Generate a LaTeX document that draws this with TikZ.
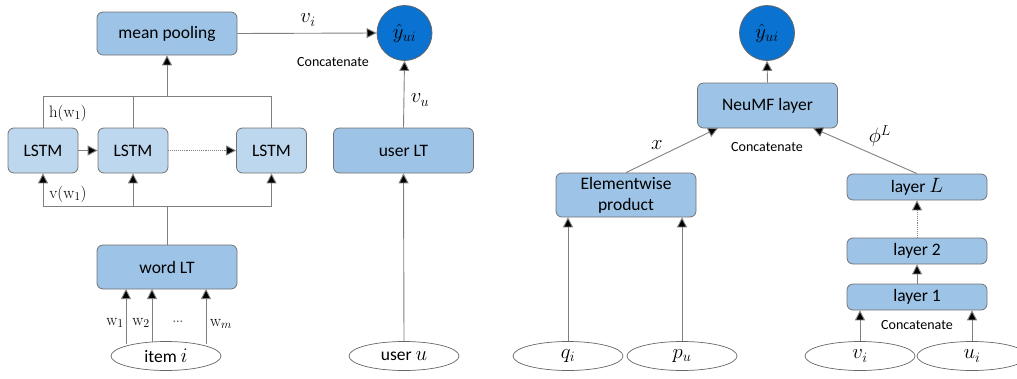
\documentclass[tikz,border=0pt]{standalone}
\usepackage{fontspec}
\setmainfont{Carlito}
\usetikzlibrary{arrows.meta,shapes.geometric}
\newcommand\bigmath[1]{{\fontsize{21}{23}\selectfont$#1$}}
\tikzset{
  blk/.style={draw=black!55, line width=0.8pt, rounded corners=6pt, fill=boxblue,
    minimum width=#1, font=\fontsize{17.5}{20}\selectfont, align=center, inner sep=0pt},
  blk/.default=140pt,
  lstmbox/.style={blk=70pt, fill=lstmblue, minimum height=45pt},
  inp/.style={draw=black!60, line width=0.7pt, ellipse, minimum width=110pt,
    minimum height=29pt, inner sep=0pt, font=\fontsize{17.5}{20}\selectfont, fill=white},
  outc/.style={circle, draw=black!60, line width=0.8pt, fill=outblue, minimum size=55pt,
    inner sep=0pt},
  link/.style={draw=black!50, line width=0.9pt},
  arr/.style={link, -{Triangle[width=10pt,length=10pt,fill=black]}},
  lbl/.style={inner sep=0pt},
  wlbl/.style={font=\fontfamily{lmr}\fontsize{16.5}{18}\selectfont, inner sep=0pt},
  small/.style={font=\fontsize{14}{16}\selectfont, inner sep=0pt},
}
\definecolor{boxblue}{HTML}{9DC3E6}
\definecolor{lstmblue}{HTML}{BDD7EE}
\definecolor{outblue}{HTML}{0A72D0}
\begin{document}
\begin{tikzpicture}[x=1pt,y=-1pt]
\useasboundingbox (0,0) rectangle (1017,378);
\clip (0,0) rectangle (1017,378);

% ---------- left model: item text through LSTMs ----------
\node[blk, minimum height=43pt] (pool) at (167,33.5) {mean pooling};
\node[lstmbox] (l1) at (43,150.5) {LSTM};
\node[lstmbox] (l2) at (133,150.5) {LSTM};
\node[lstmbox] (l3) at (271.5,150.5) {LSTM};
\node[blk, minimum height=44pt] (word) at (167,267) {word LT};
\node[inp] (item) at (166,356) {item \bigmath{i}};

\coordinate (htop) at (167,96);
\coordinate (vbot) at (167,206);

\draw[link] (l1.north) |- (htop);
\draw[link] (l3.north) |- (htop);
\draw[link] (l2.north) -- (l2.north |- htop);
\draw[arr] (htop) -- (pool.south);
\draw[arr] (l1) -- (l2);
\draw[arr, densely dotted] (l2) -- (l3);

\draw[link] (word.north) -- (vbot);
\draw[link] (l1.south |- vbot) -- (l3.south |- vbot);
\draw[arr] (l1.south |- vbot) -- (l1.south);
\draw[arr] (l2.south |- vbot) -- (l2.south);
\draw[arr] (l3.south |- vbot) -- (l3.south);

\node[wlbl] (hw) at (68,113) {h(w$_1$)};
\node[wlbl] (vw) at (68,194) {v(w$_1$)};

% word inputs, from the item ellipse to the lookup table
\coordinate (wa0) at (126,343.5);  \coordinate (wa1) at (126,289);
\coordinate (wb0) at (152,342);    \coordinate (wb1) at (152,289);
\coordinate (wc0) at (206,343.5);  \coordinate (wc1) at (206,289);
\draw[arr] (wa0) -- (wa1);
\draw[arr] (wb0) -- (wb1);
\draw[arr] (wc0) -- (wc1);
\node[wlbl] (w1) at (115,323) {w$_1$};
\node[wlbl] (w2) at (141,323) {w$_2$};
\node[small, text=black!60] (dots) at (178,322) {…};
\node[wlbl] (wm) at (221,324) {w$_m$};

% user side and first output
\node[outc] (y1) at (404.5,33) {\bigmath{\hat{y}_{ui}}};
\node[blk, minimum height=45pt] (ult) at (403.5,150.5) {user LT};
\node[inp] (user) at (404,356) {user \bigmath{u}};

\draw[arr] (pool.east) -- (y1.west);
\draw[arr] (ult.north) -- (y1.south);
\draw[arr] (user.north) -- (ult.south);
\node[lbl] (vi1) at (308,20) {\bigmath{v_i}};
\node[lbl] (vu1) at (420,100) {\bigmath{v_u}};
\node[small] (cat1) at (333,62) {Concatenate};

% ---------- right model: NeuMF ----------
\node[outc] (y2) at (767,33) {\bigmath{\hat{y}_{ui}}};
\node[blk, minimum height=45pt] (neu) at (767.5,105.5) {NeuMF layer};
\node[blk, minimum height=44pt, font=\fontsize{17.5}{21}\selectfont] (ew) at (626,195) {Elementwise\\product};
\node[blk, minimum height=26pt] (lL) at (917,187) {layer \bigmath{L}};
\node[blk, minimum height=26pt] (lay2) at (917,251) {layer 2};
\node[blk, minimum height=26pt] (lay1) at (917,297) {layer 1};

\node[inp] (qi) at (568,356) {\bigmath{q_i}};
\node[inp] (pu) at (682,356) {\bigmath{p_u}};
\node[inp] (vi) at (860,356) {\bigmath{v_i}};
\node[inp] (ui) at (972,356) {\bigmath{u_i}};

\coordinate (nx) at (718,128);
\coordinate (nphi) at (813,128);
\draw[arr] (neu.north) -- (y2.south);
\draw[arr] (ew.north) -- (nx);
\draw[arr] (lL.north) -- (nphi);
\draw[arr, densely dotted] (lay2.north) -- (lL.south);
\draw[arr] (lay1.north) -- (lay2.south);
\draw[arr] (qi.north) -- (qi.north |- ew.south);
\draw[arr] (pu.north) -- (pu.north |- ew.south);
\draw[arr] (vi.north) -- (vi.north |- lay1.south);
\draw[arr] (ui.north) -- (ui.north |- lay1.south);

\node[lbl] (xl) at (657,145) {\bigmath{x}};
\node[lbl] (phil) at (880,136) {\bigmath{\phi^L}};
\node[small] (cat2) at (767,147) {Concatenate};
\node[small] (cat3) at (917,325) {Concatenate};
\end{tikzpicture}
\end{document}
